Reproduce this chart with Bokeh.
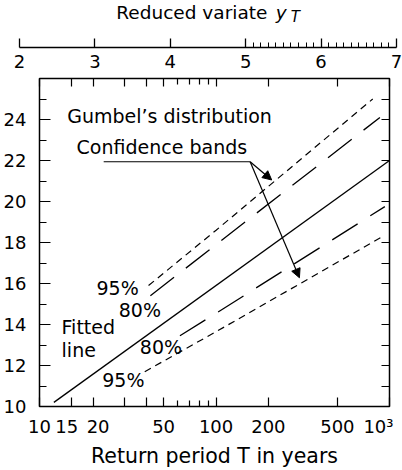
import math
from bokeh.plotting import figure
from bokeh.models import (Range1d, FixedTicker, LinearAxis, CustomJSTickFormatter,
                          Arrow, NormalHead)
from bokeh.layouts import column
from bokeh.core.properties import value
from bokeh.embed import file_html
from bokeh.resources import INLINE

FONT = "DejaVu Sans"

# ---------------- data ----------------
fitted_T = [12, 1000]
fitted_Q = [10.2, 22.0]

upper95_T = [41, 100, 800]
upper95_Q = [15.9, 18.6, 25.0]
upper80_T = [42, 100, 880]
upper80_Q = [15.4, 17.9, 24.1]
lower80_T = [62, 100, 940]
lower80_Q = [13.45, 14.55, 19.75]
lower95_T = [39, 100, 915]
lower95_Q = [11.7, 13.65, 18.3]

T_min, T_max = 10, 1000
T_major = [10, 15, 20, 30, 40, 50, 100, 200, 500, 1000]
T_labels = ["10", "15", "20", "", "", "50", "100", "200", "500", "10³"]
T_minor = [60, 70, 80, 90]

yT_major = [2, 3, 4, 5, 6, 7]
yT_minor = [5.1, 5.2, 5.3, 5.4, 5.5, 5.6, 5.7, 5.8, 5.9,
            6.1, 6.2, 6.3, 6.4, 6.5, 6.6, 6.7, 6.8, 6.9]

Q_min, Q_max = 10, 26
Q_major = [10, 12, 14, 16, 18, 20, 22, 24]
Q_minor = [11, 13, 15, 17, 19, 21, 23, 25]


def reduced(T):
    """Gumbel reduced variate y_T for return period T."""
    return -math.log(-math.log(1.0 - 1.0 / T))


def red_list(Ts):
    return [reduced(t) for t in Ts]


# small spacing tweaks so crowded tick labels sit like the original
label_pad = {"15": ("", "\u2002"), "20": ("\u2002", ""), "10³": ("", "\u2002")}
T_labels_shown = [label_pad.get(s, ("", ""))[0] + s + label_pad.get(s, ("", ""))[1]
                  for s in T_labels]

# ---------------- top figure: reduced variate axis ----------------
top = figure(width=402, height=75, x_range=Range1d(yT_major[0], yT_major[-1]),
             y_range=Range1d(0, 1), toolbar_location=None, output_backend="svg",
             x_axis_location="below", y_axis_location=None, frame_align=False,
             min_border_left=19, min_border_right=6, min_border_top=0,
             min_border_bottom=28)
top.outline_line_color = None
top.grid.visible = False
tax = top.xaxis[0]
tax.ticker = FixedTicker(ticks=yT_major, minor_ticks=yT_minor)
tax.major_tick_in = 9
tax.major_tick_out = 0
tax.minor_tick_in = 5
tax.minor_tick_out = 0
tax.axis_line_width = 1.5
tax.axis_line_color = "black"
tax.major_tick_line_color = "black"
tax.minor_tick_line_color = "black"
tax.major_tick_line_width = 1.3
tax.minor_tick_line_width = 1.0
tax.major_label_standoff = 7
tax.major_label_text_font = FONT
tax.major_label_text_font_size = "18px"
tax.major_label_text_color = "black"

title_x = 5.40
title_y = 0.745
top.text(x=[title_x], y=[title_y], text=["Reduced variate"], text_align="right",
         text_baseline="middle", x_offset=-8.5, text_font=value(FONT),
         text_font_size="18.5px", text_color="black")
top.text(x=[title_x], y=[title_y], text=["y"], text_align="left",
         text_baseline="middle", text_font=value(FONT), text_font_style="italic",
         text_font_size="18.5px", text_color="black")
top.text(x=[title_x], y=[title_y], text=["T"], text_align="left",
         text_baseline="middle", x_offset=15, y_offset=5, text_font=value(FONT),
         text_font_style="italic", text_font_size="15px", text_color="black")

# ---------------- main figure ----------------
p = figure(width=402, height=395,
           x_range=Range1d(reduced(T_min), reduced(T_max)),
           y_range=Range1d(Q_min, Q_max),
           toolbar_location=None, output_backend="svg", frame_align=False,
           min_border_left=38, min_border_right=13, min_border_top=3,
           min_border_bottom=62)
p.grid.visible = False
p.outline_line_color = "black"
p.outline_line_width = 1.5

tick_vals = red_list(T_major)

bx = p.xaxis[0]
bx.ticker = FixedTicker(ticks=tick_vals, minor_ticks=red_list(T_minor))
bx.formatter = CustomJSTickFormatter(args=dict(vals=tick_vals, labs=T_labels_shown), code="""
let best = 0;
for (let i = 0; i < vals.length; i++) {
  if (Math.abs(vals[i] - tick) < Math.abs(vals[best] - tick)) best = i;
}
return labs[best];
""")
bx.major_tick_in = 9
bx.major_tick_out = 0
bx.minor_tick_in = 6
bx.minor_tick_out = 0
bx.axis_line_color = None
bx.major_label_standoff = 9
bx.axis_label = "Return period T in years"
bx.axis_label_standoff = 4
bx.axis_label_text_font = FONT
bx.axis_label_text_font_size = "20.5px"
bx.axis_label_text_font_style = "normal"
bx.axis_label_text_color = "black"

ly = p.yaxis[0]
ly.ticker = FixedTicker(ticks=Q_major, minor_ticks=Q_minor)
ly.major_tick_in = 11
ly.major_tick_out = 0
ly.minor_tick_in = 7
ly.minor_tick_out = 0
ly.axis_line_color = None
ly.major_label_standoff = 13

for ax in (bx, ly):
    ax.major_label_text_font = FONT
    ax.major_label_text_font_size = "18px"
    ax.major_label_text_color = "black"
    ax.major_tick_line_color = "black"
    ax.minor_tick_line_color = "black"
    ax.major_tick_line_width = 1.2
    ax.minor_tick_line_width = 1.2

blank = CustomJSTickFormatter(code="return '';")
ra = LinearAxis(ticker=FixedTicker(ticks=Q_major, minor_ticks=Q_minor), formatter=blank,
                major_tick_in=8, major_tick_out=0, minor_tick_in=8, minor_tick_out=0,
                major_label_standoff=0, axis_line_color=None,
                major_tick_line_width=1.2, minor_tick_line_width=1.2)
p.add_layout(ra, "right")
ta = LinearAxis(ticker=FixedTicker(ticks=tick_vals, minor_ticks=red_list(T_minor)),
                formatter=blank,
                major_tick_in=8, major_tick_out=0, minor_tick_in=6, minor_tick_out=0,
                major_label_standoff=0, axis_line_color=None,
                major_tick_line_width=1.2, minor_tick_line_width=1.2)
p.add_layout(ta, "above")

# curves
p.line(red_list(fitted_T), fitted_Q, line_color="black", line_width=1.3)
p.line(red_list(upper95_T), upper95_Q, line_color="black", line_width=1.2, line_dash="7 5")
p.line(red_list(lower95_T), lower95_Q, line_color="black", line_width=1.2, line_dash="7 5")
p.line(red_list(upper80_T), upper80_Q, line_color="black", line_width=1.3, line_dash="30 15")
p.line(red_list(lower80_T), lower80_Q, line_color="black", line_width=1.3, line_dash="30 15")

# annotation: "Confidence bands" leader and arrows (positions in return period / value)
lead_T0, lead_T1, lead_Q = 22.8, 157, 21.94
p.line(red_list([lead_T0, lead_T1]), [lead_Q, lead_Q], line_color="black", line_width=1.2)
for end_T, end_Q in ((209, 21.05), (302, 16.28)):
    p.add_layout(Arrow(x_start=reduced(lead_T1), y_start=lead_Q,
                       x_end=reduced(end_T), y_end=end_Q, line_width=1.2,
                       line_color="black",
                       end=NormalHead(size=9, fill_color="black", line_color="black")))

label_texts = ["Gumbel’s distribution", "Confidence bands", "95%", "80%",
               "Fitted", "line", "80%", "95%"]
label_x = [2.62, 2.744, 3.009, 3.305, 2.544, 2.544, 3.585, 3.085]
label_y = [24.16, 22.67, 15.76, 14.69, 13.89, 12.77, 12.90, 11.31]
p.text(x=label_x, y=label_y, text=label_texts, text_align="left",
       text_baseline="middle", text_font=value(FONT), text_font_size="19px",
       text_color="black")

layout = column(top, p)
open("out.html", "w").write(file_html(layout, INLINE))
